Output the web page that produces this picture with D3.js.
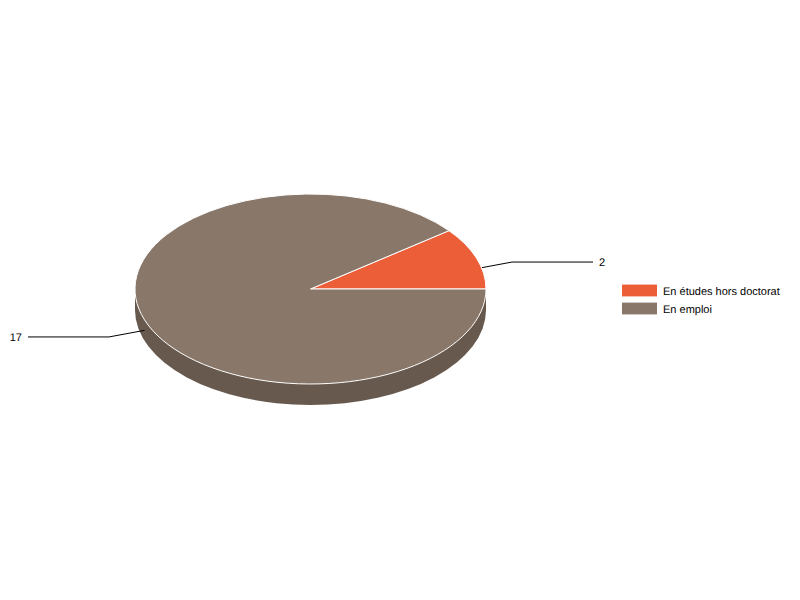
<!DOCTYPE html>
<html>
<head>
<meta charset="utf-8">
<script src="https://cdn.jsdelivr.net/npm/d3@7"></script>
<style>
html,body{margin:0;padding:0;background:#fff;}
svg{display:block;}
text{font-family:"Liberation Sans",Arial,sans-serif;font-size:11px;fill:#000;text-rendering:geometricPrecision;}
</style>
</head>
<body>
<svg id="chart" width="800" height="600"></svg>
<script>
const categories = ["En études hors doctorat", "En emploi"];
const values = [2, 17];
const colors = ["#EB5E37", "#897769"];
const sideColors = ["#B04729", "#67594E"];

const cx = 310.5, cy = 289, rx = 175.5, ry = 95, depth = 21;
const svg = d3.select("#chart");

const pie = d3.pie().sort(null).startAngle(Math.PI / 2).endAngle(Math.PI / 2 - 2 * Math.PI);
const slices = pie(values).map((d, i) => ({...d, category: categories[i], index: i}));
const arc = d3.arc().innerRadius(0).outerRadius(rx);

// Side wall: only the front half of the disc is visible, and it belongs to the slice covering it
const frontSlice = slices.find(s => s.value === d3.max(values));
svg.append("path")
  .attr("d", `M${cx - rx},${cy} L${cx - rx},${cy + depth} A${rx},${ry} 0 0 0 ${cx + rx},${cy + depth} L${cx + rx},${cy} Z`)
  .attr("fill", sideColors[frontSlice.index]);

// Leader lines sit between the side wall and the top face
const mid = d => (d.startAngle + d.endAngle) / 2;
const px = (a, k) => cx + rx * k * Math.sin(a);
const py = (a, k) => cy - ry * k * Math.cos(a) + depth / 2;
const elbowK = 1.214, run = 81;

const labels = svg.append("g");
slices.forEach(d => {
  const a = mid(d);
  const right = Math.sin(a) > 0;
  const dir = right ? 1 : -1;
  const ex = px(a, elbowK), ey = py(a, elbowK);
  labels.append("path")
    .attr("d", d3.line()([[px(a, 1), py(a, 1)], [ex, ey], [ex + dir * run, ey]]))
    .attr("fill", "none").attr("stroke", "#000").attr("stroke-width", 1);
  labels.append("text")
    .attr("x", ex + dir * (run + 6)).attr("y", ey + 4)
    .attr("text-anchor", right ? "start" : "end")
    .text(d.value);
});

// Top face
svg.append("g")
  .attr("transform", `translate(${cx},${cy}) scale(1,${ry / rx})`)
  .selectAll("path").data(slices).join("path")
  .attr("d", arc)
  .attr("fill", d => colors[d.index])
  .attr("stroke", "#fff")
  .attr("stroke-width", 1)
  .attr("vector-effect", "non-scaling-stroke");

// Legend
const legendY = d3.scalePoint().domain(categories).range([285, 303]);
const legend = svg.append("g").selectAll("g").data(categories).join("g")
  .attr("transform", d => `translate(622,${legendY(d)})`);
legend.append("rect").attr("y", -0.4).attr("width", 35).attr("height", 11.8)
  .attr("fill", (d, i) => colors[i]);
legend.append("text").attr("x", 41).attr("y", 9.5).text(d => d);
</script>
</body>
</html>
